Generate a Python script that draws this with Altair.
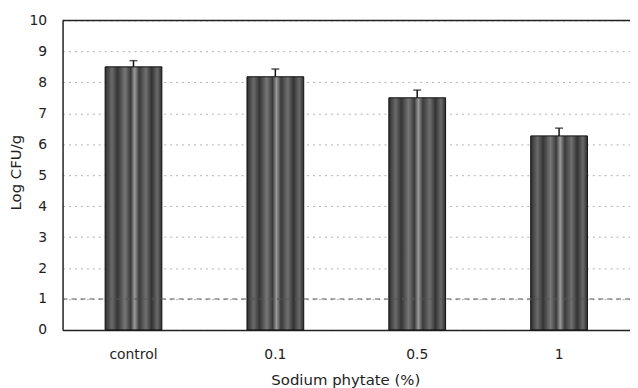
import altair as alt
import pandas as pd

categories = ["control", "0.1", "0.5", "1"]
log_cfu = [8.5, 8.18, 7.5, 6.27]
errors = [0.2, 0.25, 0.25, 0.25]
detection_limit = [1]
axis_top = [10]
y_ticks = [0, 1, 2, 3, 4, 5, 6, 7, 8, 9, 10]

df = pd.DataFrame({"cat": categories, "val": log_cfu, "err": errors})
df["hi"] = df["val"] + df["err"]

FONT = "DejaVu Sans"

xaxis = alt.Axis(title="Sodium phytate (%)", labelAngle=0, ticks=False,
                 labelPadding=18, labelFontSize=14, labelFont=FONT,
                 labelColor="#222", titleFont=FONT, titleFontSize=15,
                 titleFontWeight="normal", titleColor="#222",
                 titleX=285, titleY=50, titleBaseline="middle",
                 domainColor="#222", domainWidth=1.5, grid=False)
yaxis = alt.Axis(title="Log CFU/g", values=y_ticks, tickCount=20, format="d",
                 ticks=False, labelOverlap=False,
                 labelPadding=16, labelFontSize=14, labelFont=FONT,
                 labelColor="#222", titleFont=FONT, titleFontSize=15,
                 titleFontWeight="normal", titleColor="#222",
                 titleAngle=270, titleX=-47, titleY=153, titleAlign="center",
                 titleBaseline="middle", domainColor="#222", domainWidth=1.5,
                 grid=True, gridColor="#b0b0b0", gridDash=[2, 4], gridWidth=1)
xscale = alt.Scale(paddingInner=0.6, paddingOuter=0.3)
yscale = alt.Scale(domain=[0, 10], nice=False)


def X():
    return alt.X("cat:N", sort=categories, scale=xscale, axis=xaxis)


def Y(field):
    return alt.Y(field, scale=yscale, axis=yaxis)


stripes = alt.Gradient(
    gradient="linear", x1=0, x2=1, y1=0, y2=0,
    stops=[
        alt.GradientStop(color="#2e2e2e", offset=0.0),
        alt.GradientStop(color="#6a6a6a", offset=0.12),
        alt.GradientStop(color="#353535", offset=0.22),
        alt.GradientStop(color="#777777", offset=0.35),
        alt.GradientStop(color="#3a3a3a", offset=0.45),
        alt.GradientStop(color="#9a9a9a", offset=0.52),
        alt.GradientStop(color="#3a3a3a", offset=0.6),
        alt.GradientStop(color="#707070", offset=0.72),
        alt.GradientStop(color="#333333", offset=0.82),
        alt.GradientStop(color="#6a6a6a", offset=0.92),
        alt.GradientStop(color="#2e2e2e", offset=1.0),
    ])

base = alt.Chart(df)
bars = base.mark_bar(fill=stripes, stroke="#111", strokeWidth=1).encode(
    x=X(), y=Y("val:Q"))
err = base.mark_rule(color="#111", strokeWidth=1.5).encode(
    x=X(), y=Y("val:Q"), y2="hi:Q")
caps = base.mark_tick(color="#111", size=8, thickness=1.5).encode(
    x=X(), y=Y("hi:Q"))

dl = alt.Chart(pd.DataFrame({"y": detection_limit})).mark_rule(
    color="#555", strokeDash=[5, 4], strokeWidth=1).encode(y=Y("y:Q"))
top = alt.Chart(pd.DataFrame({"y": axis_top})).mark_rule(
    color="#222", strokeWidth=1.5).encode(y=Y("y:Q"))

chart = alt.layer(bars, dl, err, caps, top).properties(
    width=572, height=312,
    autosize=alt.AutoSizeParams(type="none"),
    padding={"left": 55, "top": 11, "right": 0, "bottom": 57},
).configure_view(stroke=None)

chart.save("out.html", embed_options={"renderer": "svg", "actions": False})
